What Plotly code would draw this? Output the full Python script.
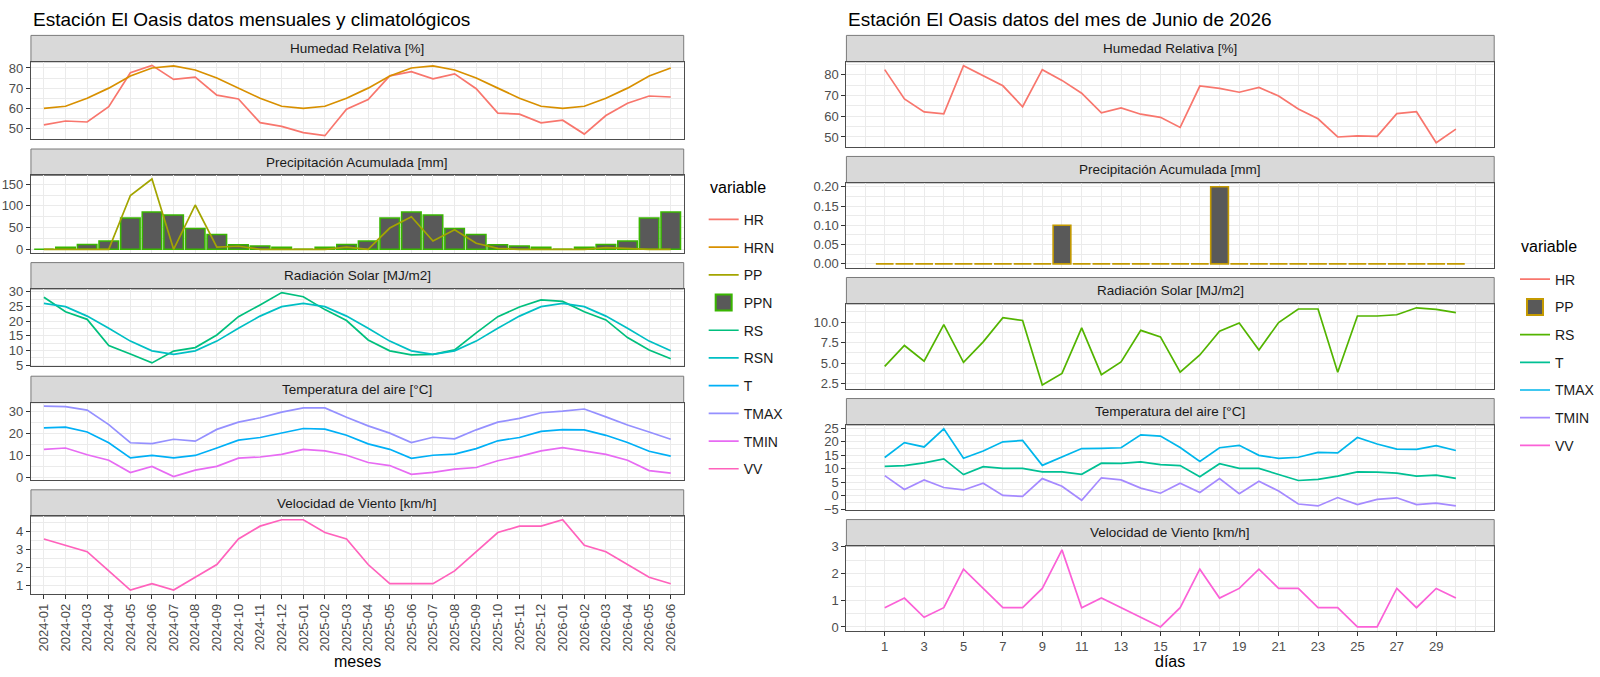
import plotly.graph_objects as go

# ---- datos mensuales (panel izquierdo) ----
meses = ["2024-01", "2024-02", "2024-03", "2024-04", "2024-05", "2024-06",
         "2024-07", "2024-08", "2024-09", "2024-10", "2024-11", "2024-12",
         "2025-01", "2025-02", "2025-03", "2025-04", "2025-05", "2025-06",
         "2025-07", "2025-08", "2025-09", "2025-10", "2025-11", "2025-12",
         "2026-01", "2026-02", "2026-03", "2026-04", "2026-05", "2026-06"]
hr_m = [51.8, 53.7, 53.2, 60.8, 77.6, 81.3, 74.3, 75.5, 66.5, 64.6, 52.9, 51.0,
        47.9, 46.4, 59.5, 64.3, 76.1, 78.2, 74.6, 77.1, 69.7, 57.6, 57.1, 52.8,
        54.1, 47.2, 56.4, 62.5, 66.1, 65.6]
hrn_m = [60, 61, 65, 70, 76, 80, 81, 79, 75, 70, 65, 61,
         60, 61, 65, 70, 76, 80, 81, 79, 75, 70, 65, 61,
         60, 61, 65, 70, 76, 80]
pp_m = [0, 0, 0, 0, 124, 162, 0, 102, 5, 7, 0, 0,
        0, 0, 5, 0, 49, 75, 19, 45, 14, 2, 0, 0,
        0, 0, 4, 1.5, 0, 0]
ppn_m = [0, 4.5, 11, 19, 72, 86, 79, 48, 34, 10.5, 7.5, 4.5,
         0, 4.5, 11, 19, 72, 86, 79, 48, 34, 10.5, 7.5, 4.5,
         0, 4.5, 11, 19, 72, 86]
rs_m = [28.1, 23.2, 20.6, 11.7, 8.8, 5.8, 9.8, 11.0, 15.3, 21.5, 25.5, 29.7,
        28.3, 23.9, 20.2, 13.6, 9.9, 8.5, 8.7, 10.2, 16.0, 21.5, 24.8, 27.2,
        26.7, 23.2, 20.4, 14.4, 10.2, 7.2]
rsn_m = [26.0, 24.9, 21.7, 17.6, 13.2, 9.9, 8.7, 9.9, 13.2, 17.6, 21.7, 24.9,
         26.0, 24.9, 21.7, 17.6, 13.2, 9.9, 8.7, 9.9, 13.2, 17.6, 21.7, 24.9,
         26.0, 24.9, 21.7, 17.6, 13.2, 9.9]
t_m = [22.5, 22.8, 20.6, 15.7, 8.8, 9.9, 8.8, 9.9, 13.3, 16.9, 18.1, 20.0,
       22.2, 21.9, 19.1, 15.2, 12.7, 8.6, 10.0, 10.5, 13.0, 16.6, 18.1, 20.9,
       21.7, 21.6, 19.1, 15.8, 11.8, 9.6]
tmax_m = [32.4, 32.2, 30.6, 24.0, 15.7, 15.3, 17.3, 16.4, 21.8, 25.1, 27.1, 29.7,
          31.6, 31.6, 27.3, 23.4, 20.1, 15.8, 18.2, 17.5, 21.6, 25.1, 26.8, 29.4,
          30.1, 31.1, 27.5, 23.8, 20.6, 17.3]
tmin_m = [12.7, 13.3, 10.2, 7.7, 2.1, 4.9, 0.3, 3.2, 4.9, 8.7, 9.2, 10.4,
          12.7, 12.0, 10.0, 6.7, 5.3, 1.3, 2.2, 3.7, 4.4, 7.5, 9.5, 12.0,
          13.5, 12.0, 10.4, 7.7, 3.0, 1.8]
vv_m = [3.60, 3.24, 2.88, 1.80, 0.72, 1.08, 0.72, 1.44, 2.16, 3.60, 4.32, 4.68,
        4.68, 3.96, 3.60, 2.16, 1.08, 1.08, 1.08, 1.80, 2.88, 3.96, 4.32, 4.32,
        4.68, 3.24, 2.88, 2.16, 1.44, 1.08]

# ---- datos diarios de junio 2026 (panel derecho) ----
dias = [1, 2, 3, 4, 5, 6, 7, 8, 9, 10, 11, 12, 13, 14, 15,
        16, 17, 18, 19, 20, 21, 22, 23, 24, 25, 26, 27, 28, 29, 30]
hr_d = [82.5, 68.4, 62.1, 61.2, 84.4, 79.4, 74.7, 64.6, 82.5, 77.3, 71.1, 61.7,
        64.0, 61.0, 59.5, 54.6, 74.6, 73.5, 71.6, 73.9, 69.8, 63.5, 58.8, 50.0,
        50.5, 50.3, 61.3, 62.2, 47.2, 53.8]
pp_d = [0, 0, 0, 0, 0, 0, 0, 0, 0, 0.1, 0, 0, 0, 0, 0,
        0, 0, 0.2, 0, 0, 0, 0, 0, 0, 0, 0, 0, 0, 0, 0]
rs_d = [4.6, 7.15, 5.25, 9.7, 5.1, 7.6, 10.55, 10.2, 2.35, 3.75, 9.3, 3.6,
        5.15, 9.0, 8.2, 3.9, 6.0, 8.9, 9.9, 6.6, 9.95, 11.6, 11.6, 3.9,
        10.75, 10.75, 10.9, 11.75, 11.55, 11.15]
t_d = [10.9, 11.2, 12.2, 13.7, 7.9, 10.8, 10.2, 10.2, 8.9, 8.9, 8.0, 12.1,
       12.0, 12.6, 11.6, 11.2, 7.1, 11.9, 10.2, 10.2, 7.9, 5.7, 6.1, 7.3,
       8.9, 8.8, 8.4, 7.3, 7.7, 6.5]
tmax_d = [14.2, 19.7, 18.1, 24.8, 13.9, 16.6, 20.0, 20.5, 11.3, 14.4, 17.5, 17.6,
          17.8, 22.6, 22.1, 17.9, 12.7, 17.8, 18.7, 15.0, 13.9, 14.3, 16.1, 15.9,
          21.6, 19.2, 17.3, 17.2, 18.6, 16.8]
tmin_d = [7.5, 2.4, 5.9, 3.1, 2.2, 4.7, 0.2, -0.2, 6.4, 3.6, -1.6, 6.7,
          5.9, 2.9, 1.0, 4.7, 1.3, 6.4, 0.8, 5.4, 1.8, -3.0, -3.7, -0.6,
          -3.2, -1.3, -0.7, -3.2, -2.7, -3.7]
vv_d = [0.72, 1.08, 0.36, 0.72, 2.16, 1.44, 0.72, 0.72, 1.44, 2.88, 0.72, 1.08,
        0.72, 0.36, 0.0, 0.72, 2.16, 1.08, 1.44, 2.16, 1.44, 1.44, 0.72, 0.72,
        0.0, 0.0, 1.44, 0.72, 1.44, 1.08]

FONT = "Liberation Sans, Arial, sans-serif"
W, H = 1600, 677
GRID = "#EBEBEB"
BORDER = "#4D4D4D"
BAR_FILL = "#595959"


def xdom(a, b):
    return [a / W, b / W]


def ydom(top, bot):
    return [1 - bot / H, 1 - top / H]


def boxes(top, bottom, strip=27, gap=10, n=5):
    ph = (bottom - top - n * strip - (n - 1) * gap) / n
    out, y = [], top
    for _ in range(n):
        out.append((y, y + strip, y + strip + ph))
        y += strip + ph + gap
    return out


def expand(series, zero=False):
    vals = [v for s in series for v in s]
    lo, hi = min(vals), max(vals)
    if zero:
        lo, hi = min(lo, 0), max(hi, 0)
    pad = (hi - lo) * 0.05
    return [lo - pad, hi + pad]


# (titulo, [(nombre, valores, color, es_barra)], dtick, formato)
left_panels = [
    ("Humedad Relativa [%]", [("HR", hr_m, "#F8766D", False), ("HRN", hrn_m, "#D89000", False)], 10, ""),
    ("Precipitación Acumulada [mm]", [("PPN", ppn_m, "#39B600", True), ("PP", pp_m, "#A3A500", False)], 50, ""),
    ("Radiación Solar [MJ/m2]", [("RS", rs_m, "#00BF7D", False), ("RSN", rsn_m, "#00BFC4", False)], 5, ""),
    ("Temperatura del aire [°C]", [("T", t_m, "#00B0F6", False), ("TMAX", tmax_m, "#9590FF", False),
                                   ("TMIN", tmin_m, "#E76BF3", False)], 10, ""),
    ("Velocidad de Viento [km/h]", [("VV", vv_m, "#FF62BC", False)], 1, ""),
]
right_panels = [
    ("Humedad Relativa [%]", [("HR", hr_d, "#F8766D", False)], 10, ""),
    ("Precipitación Acumulada [mm]", [("PP", pp_d, "#C49A00", True)], 0.05, ".2f"),
    ("Radiación Solar [MJ/m2]", [("RS", rs_d, "#53B400", False)], 2.5, ".1f"),
    ("Temperatura del aire [°C]", [("T", t_d, "#00C094", False), ("TMAX", tmax_d, "#00B6EB", False),
                                   ("TMIN", tmin_d, "#A58AFF", False)], 5, ""),
    ("Velocidad de Viento [km/h]", [("VV", vv_d, "#FB61D7", False)], 1, ""),
]

fig = go.Figure()
layout = {}
shapes, annotations = [], []

d_lo, d_hi = dias[0] - 0.45, dias[-1] + 0.45
d_pad = (d_hi - d_lo) * 0.05
dias_range = [d_lo - d_pad, d_hi + d_pad]

columns = [
    (left_panels, meses, (31, 685), boxes(29, 599), "legend", 0),
    (right_panels, dias, (848, 1497), boxes(29, 637), "legend2", 5),
]

for panels, xs, (xa, xb), bx, leg, offset in columns:
    order = sorted(n for _, trs, _, _ in panels for n, _, _, _ in trs)
    for i, (title, trs, dt, fmt) in enumerate(panels):
        k = offset + i + 1
        st, sb, pb = bx[i]
        last = i == len(panels) - 1
        for name, vals, color, is_bar in trs:
            common = dict(x=xs, y=vals, name=name, xaxis=f"x{k}", yaxis=f"y{k}",
                          legend=leg, legendgroup=f"{leg}-{name}",
                          legendrank=order.index(name) + 1, hoverinfo="skip")
            if is_bar:
                fig.add_trace(go.Bar(marker=dict(color=BAR_FILL, line=dict(color=color, width=1.6)),
                                     width=0.9, showlegend=False, **common))
                # legend key: a bigger filled square like the ggplot key
                fig.add_trace(go.Scatter(x=[None], y=[None], mode="markers", name=name,
                                         xaxis=f"x{k}", yaxis=f"y{k}", legend=leg,
                                         legendgroup=f"{leg}-{name}",
                                         legendrank=order.index(name) + 1,
                                         marker=dict(symbol="square", size=20, color=BAR_FILL,
                                                     line=dict(color=color, width=2))))
            else:
                fig.add_trace(go.Scatter(mode="lines", line=dict(color=color, width=1.7), **common))

        xaxis = dict(domain=xdom(xa, xb), anchor=f"y{k}", showgrid=True, gridcolor=GRID,
                     gridwidth=1.1, showline=True, mirror=True, linecolor=BORDER, linewidth=1,
                     zeroline=False, showticklabels=last, ticks="outside" if last else "",
                     ticklen=4, tickcolor="#333333",
                     tickfont=dict(family=FONT, size=13, color="#4D4D4D"))
        if offset == 0:
            xaxis.update(type="category", categoryorder="array", categoryarray=meses,
                         tickmode="array", tickvals=meses, range=[-0.6, len(meses) - 0.4],
                         tickangle=-90)
        else:
            xaxis.update(type="linear", range=dias_range, tickmode="array", tickvals=dias[::2],
                         minor=dict(tickmode="linear", tick0=0, dtick=1, showgrid=True,
                                    gridcolor=GRID, gridwidth=0.6, ticks=""))
        layout[f"xaxis{k}"] = xaxis

        layout[f"yaxis{k}"] = dict(
            domain=ydom(sb, pb), anchor=f"x{k}",
            range=expand([v for _, v, _, _ in trs], zero=any(b for _, _, _, b in trs)),
            tickmode="linear", tick0=0, dtick=dt, tickformat=fmt,
            ticks="outside", ticklen=4, tickcolor="#333333",
            showgrid=True, gridcolor=GRID, gridwidth=1.1,
            minor=dict(tickmode="linear", tick0=0, dtick=dt / 2, showgrid=True,
                       gridcolor=GRID, gridwidth=0.6, ticks=""),
            showline=True, mirror=True, linecolor=BORDER, linewidth=1, zeroline=False,
            tickfont=dict(family=FONT, size=13, color="#4D4D4D"))

        shapes.append(dict(type="rect", xref="paper", yref="paper",
                           x0=xa / W, x1=xb / W, y0=1 - sb / H, y1=1 - st / H,
                           fillcolor="#D9D9D9", line=dict(color="#7A7A7A", width=1), layer="below"))
        annotations.append(dict(text=title, xref="paper", yref="paper", x=(xa + xb) / 2 / W,
                                y=1 - (st + sb) / 2 / H, showarrow=False, xanchor="center",
                                yanchor="middle", font=dict(family=FONT, size=13.5, color="#1A1A1A")))


def label(text, x, y, size, anchor="left"):
    return dict(text=text, xref="paper", yref="paper", x=x / W, y=1 - y / H,
                xanchor=anchor, yanchor="middle", showarrow=False,
                font=dict(family=FONT, size=size, color="#000000"))


annotations += [
    label("Estación El Oasis datos mensuales y climatológicos", 31, 13, 19),
    label("Estación El Oasis datos del mes de Junio de 2026", 848, 13, 19),
    label("meses", 358, 668, 16, "center"),
    label("días", 1172, 668, 16, "center"),
    label("variable", 709, 184, 16),
    label("variable", 1522, 245, 16),
]

legend_style = dict(xanchor="left", yanchor="top", traceorder="grouped", tracegroupgap=6.5,
                    itemwidth=30, bgcolor="rgba(0,0,0,0)",
                    font=dict(family=FONT, size=14, color="#1A1A1A"))

fig.update_layout(
    width=W, height=H,
    margin=dict(l=0, r=0, t=0, b=0),
    paper_bgcolor="white", plot_bgcolor="white",
    font=dict(family=FONT),
    showlegend=True,
    legend=dict(x=705 / W, y=1 - 201 / H, **legend_style),
    legend2=dict(x=1518 / W, y=1 - 262 / H, **legend_style),
    shapes=shapes, annotations=annotations,
    barmode="overlay",
    **layout,
)

fig.write_html("out.html", config={"displayModeBar": False},
               post_script="document.body.style.margin='0';document.body.style.overflow='hidden';")
